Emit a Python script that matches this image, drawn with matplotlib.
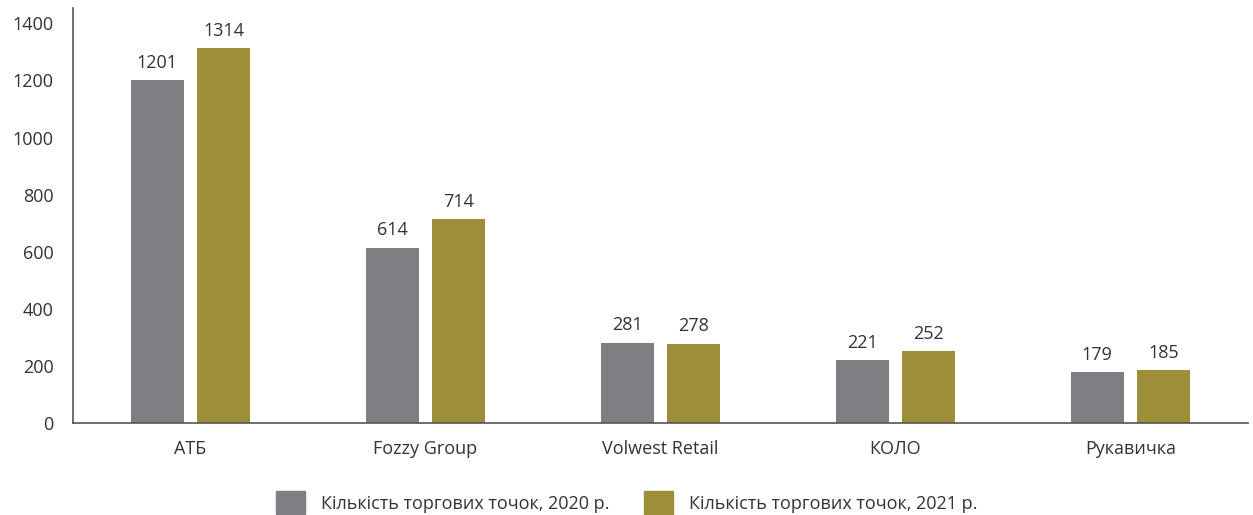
import numpy as np
import matplotlib.pyplot as plt
from matplotlib.patches import Patch

plt.rcParams['font.family'] = ['Open Sans', 'DejaVu Sans']

# chart data
companies = ['АТБ', 'Fozzy Group', 'Volwest Retail', 'КОЛО', 'Рукавичка']
stores_2020 = [1201, 614, 281, 221, 179]
stores_2021 = [1314, 714, 278, 252, 185]
series_names = ['Кількість торгових точок, 2020 р.', 'Кількість торгових точок, 2021 р.']

grey = '#7e7f83'
gold = '#9d8e3a'
text_col = '#333333'
fs = 13

fig = plt.figure(figsize=(12.53, 5.15), dpi=100, facecolor='w')
ax = fig.add_axes([0.0583, 0.1786, 0.9377, 0.805])

x = np.arange(len(companies))
w = 0.225
off = 0.142

b1 = ax.bar(x - off, stores_2020, w, color=grey)
b2 = ax.bar(x + off, stores_2021, w, color=gold)

# value labels above bars
for bars in (b1, b2):
	for r in bars:
		ax.annotate(f'{int(r.get_height())}', (r.get_x() + r.get_width() / 2, r.get_height()),
					xytext=(0, 6), textcoords='offset points',
					ha='center', va='bottom', fontsize=fs, color=text_col)

ax.set_xlim(-0.5, 4.5)
ax.set_ylim(0, 1452)
ax.set_yticks(range(0, 1401, 200))
ax.set_xticks(x)
ax.set_xticklabels(companies)
ax.tick_params(axis='both', length=0, labelsize=fs, colors=text_col)
ax.tick_params(axis='x', pad=12)
ax.tick_params(axis='y', pad=14)

for s in ('top', 'right'):
	ax.spines[s].set_visible(False)
for s in ('left', 'bottom'):
	ax.spines[s].set_color('#555555')
	ax.spines[s].set_linewidth(1.2)

handles = [Patch(color=grey), Patch(color=gold)]
fig.legend(handles, series_names, loc='lower center', bbox_to_anchor=(0.5, -0.03),
		   ncol=2, frameon=False, fontsize=fs, handlelength=1.6, handleheight=1.6,
		   columnspacing=1.9, handletextpad=0.9, labelcolor=text_col)

fig.savefig('out.png', dpi=100)
